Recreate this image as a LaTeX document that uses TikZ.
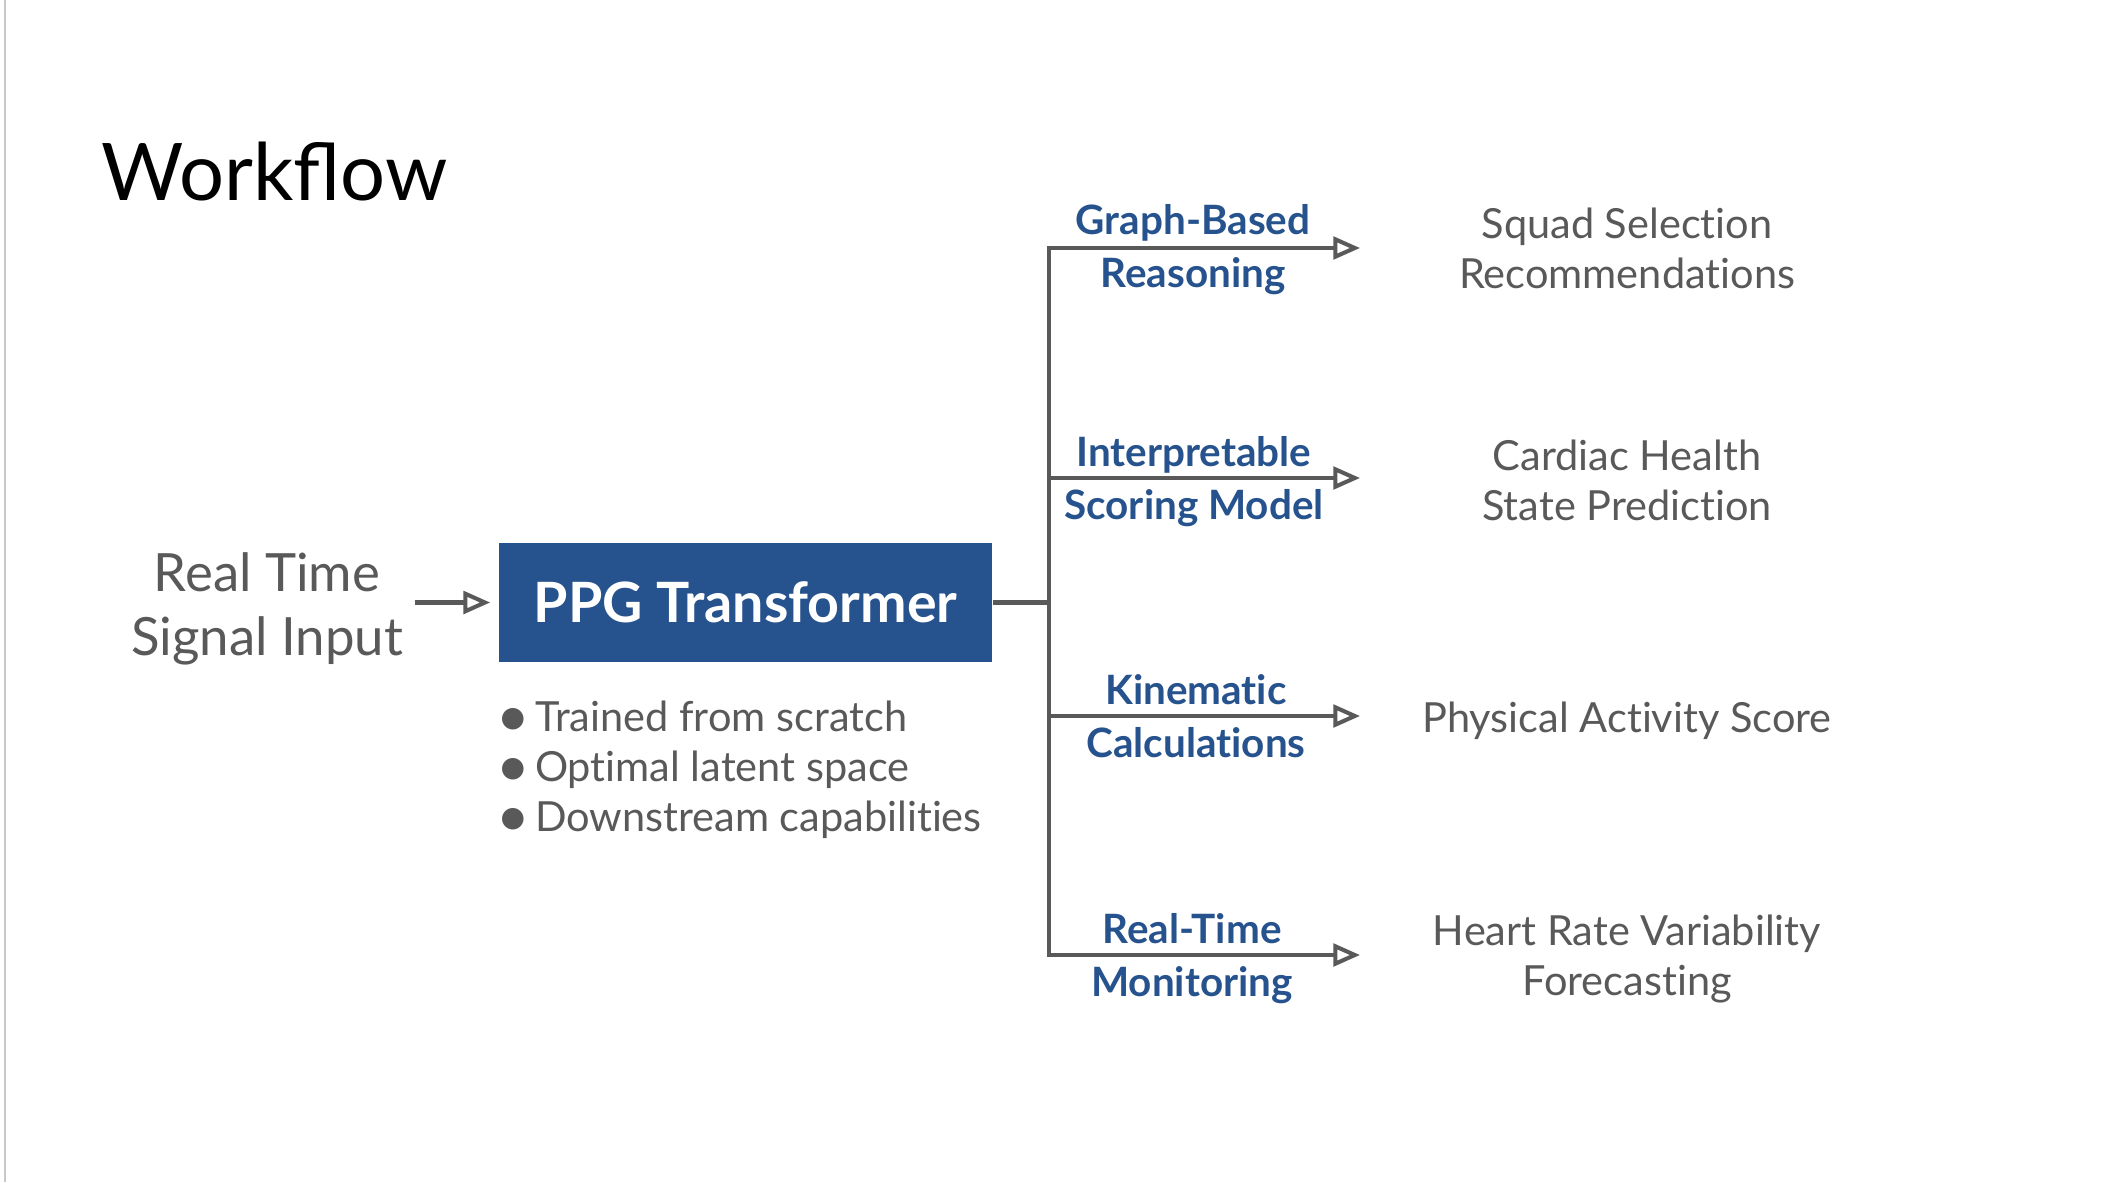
\documentclass[tikz,border=0pt]{standalone}
\usepackage{fontspec}
\setmainfont{Lato}[Ligatures=NoCommon]
\newfontfamily\titlefont{Lato}
\newfontfamily\symfont{DejaVu Sans}
\usetikzlibrary{arrows.meta}
\definecolor{boxblue}{RGB}{38,82,141}
\definecolor{txtgray}{RGB}{89,89,89}
\definecolor{linegray}{RGB}{89,89,89}
\definecolor{edgegray}{RGB}{200,200,200}
\newcommand{\bul}{\raisebox{1.5pt}{\symfont\fontsize{8}{8}\selectfont ●}\hspace{2.8pt}}
\begin{document}
\begin{tikzpicture}[x=0.01cm,y=-0.01cm,
  conn/.style={draw=linegray, line width=1.15pt},
  arr/.style={conn, -{Triangle[open,length=7.6pt,width=6.4pt,fill=white]}},
  lbl/.style={text=boxblue, font=\fontsize{11.5}{15.1}\selectfont\bfseries, align=center, inner sep=0pt},
  outtxt/.style={text=txtgray, font=\fontsize{11.8}{14.2}\selectfont, align=center, inner sep=0pt},
]
\useasboundingbox (0,0) rectangle (2122,1182);
\fill[white] (0,0) rectangle (2122,1182);
\draw[edgegray, line width=0.6pt] (5,0) -- (5,1182);

% title
\node[anchor=base west, inner sep=0pt, font=\titlefont\fontsize{22.6}{28}\selectfont] (title) at (101,200) {Workflow};

% input and main box
\node[text=txtgray, font=\fontsize{15}{18.2}\selectfont, align=center, inner sep=0pt] (inp) at (267,609) {Real Time\\Signal Input};
\node[fill=boxblue, text=white, minimum width=4.93cm, minimum height=1.19cm, inner sep=0pt,
      font=\fontsize{15.8}{18}\selectfont\bfseries] (ppg) at (745.5,602.5) {PPG Transformer};
\draw[arr] ([xshift=0.11cm]inp.east |- ppg.west) -- ([xshift=-0.08cm]ppg.west);

% bullets
\node[anchor=west, text=txtgray, align=left, inner sep=0pt, font=\fontsize{11.8}{14.2}\selectfont] (bullets) at (500,770)
  {\bul Trained from scratch\\\bul Optimal latent space\\\bul Downstream capabilities};

% trunk and branches
\coordinate (jm) at (1049,602.5);
\coordinate (j1) at (1049,248);
\coordinate (j2) at (1049,478);
\coordinate (j3) at (1049,716);
\coordinate (j4) at (1049,955);
\coordinate (e1) at (1360,248);
\coordinate (e2) at (1360,478);
\coordinate (e3) at (1360,716);
\coordinate (e4) at (1360,955);
\draw[conn, line cap=rect] (j1) -- (j4);
\draw[conn] (ppg.east) -- (jm);
\draw[arr] (j1) -- (e1);
\draw[arr] (j2) -- (e2);
\draw[arr] (j3) -- (e3);
\draw[arr] (j4) -- (e4);

% branch labels
\node[lbl] (l1) at (1193,250) {Graph-Based\\Reasoning};
\node[lbl] (l2) at (1194,482) {Interpretable\\Scoring Model};
\node[lbl] (l3) at (1196,716) {Kinematic\\Calculations};
\node[lbl] (l4) at (1192,959) {Real-Time\\Monitoring};

% outputs
\node[outtxt] (o1) at (1627,248) {Squad Selection\\Recommendations};
\node[outtxt] (o2) at (1627,480) {Cardiac Health\\State Prediction};
\node[outtxt] (o3) at (1627,721) {Physical Activity Score};
\node[outtxt] (o4) at (1627,959) {Heart Rate Variability\\Forecasting};
\end{tikzpicture}
\end{document}
